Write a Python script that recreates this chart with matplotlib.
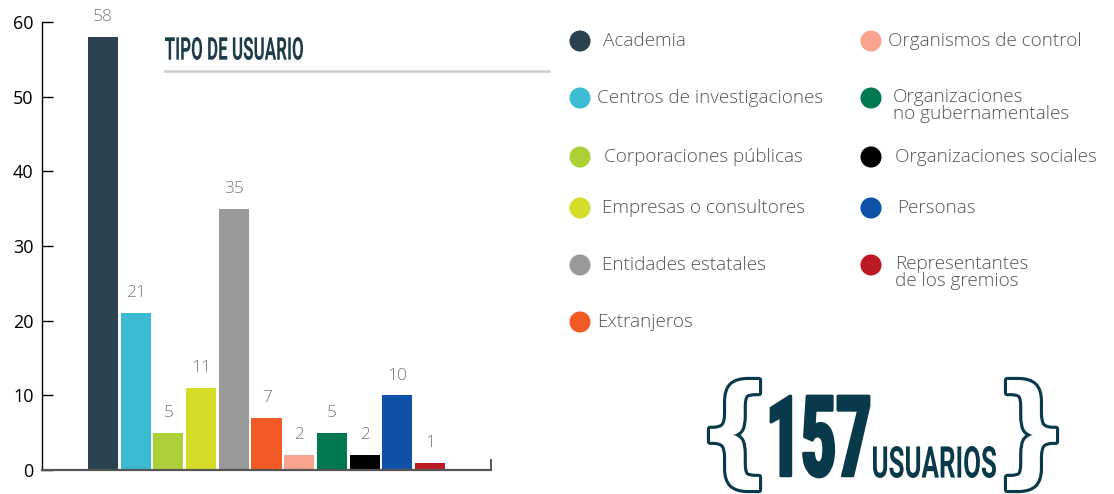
import matplotlib
matplotlib.use("Agg")
import matplotlib.pyplot as plt
import matplotlib.patheffects as pe
from matplotlib.transforms import Affine2D
import numpy as np

categories = ["Academia", "Centros de investigaciones", "Corporaciones públicas",
              "Empresas o consultores", "Entidades estatales", "Extranjeros",
              "Organismos de control", "Organizaciones\nno gubernamentales",
              "Organizaciones sociales", "Personas", "Representantes\nde los gremios"]
values = [58, 21, 5, 11, 35, 7, 2, 5, 2, 10, 1]
colors = ["#2b4250", "#3bbcd3", "#acd036", "#d5dd26", "#999999", "#f15a24",
          "#f9a48f", "#00794f", "#000000", "#0d52a8", "#bb1a22"]
yticks = [0, 10, 20, 30, 40, 50, 60]
title = "TIPO DE USUARIO"
total_label = "157"
total_unit = "USUARIOS"

W, H = 1114, 494


class FitBox(pe.AbstractPathEffect):
    """Draw a text's glyphs fitted to a box (image pixels: left, right, top, bottom).
    The artist remains a real Text object; only its rendering is condensed."""

    def __init__(self, box, stroke=None, stroke_lw=0):
        super().__init__()
        self.box = box
        self.stroke = stroke
        self.stroke_lw = stroke_lw

    def draw_path(self, renderer, gc, tpath, affine, rgbFace=None):
        left, right, top, bottom = self.box
        ext = tpath.get_extents(affine)
        sx = (right - left) / max(ext.width, 1e-6)
        sy = (bottom - top) / max(ext.height, 1e-6)
        new = (affine + Affine2D().translate(-ext.x0, -ext.y0)
               .scale(sx, sy).translate(left, H - bottom))
        if self.stroke is not None:
            gc0 = renderer.new_gc()
            gc0.copy_properties(gc)
            gc0.set_linewidth(self.stroke_lw)
            gc0.set_foreground(self.stroke)
            gc0.set_joinstyle("round")
            renderer.draw_path(gc0, tpath, new, None)
            gc0.restore()
        renderer.draw_path(gc, tpath, new, rgbFace)


fig = plt.figure(figsize=(W / 100, H / 100), dpi=100)

# ---- bar chart ----
ax = fig.add_axes([42 / W, 24 / H, (491 - 42) / W, (470 - 22) / H])
x = np.arange(len(values))
ax.bar(x, values, width=0.92, color=colors, zorder=2)
ax.set_xlim(-1.87, len(values) - 1 + 1.87)
ax.set_ylim(0, 60)
ax.set_yticks(yticks)
ax.set_xticks([])
for s in ["top", "right"]:
    ax.spines[s].set_visible(False)
ax.spines["left"].set_color("black")
ax.spines["left"].set_linewidth(1.0)
ax.spines["bottom"].set_color("#555555")
ax.spines["bottom"].set_linewidth(1.6)
ax.tick_params(axis="y", direction="in", length=8, width=1.0, pad=6,
               labelsize=13, labelcolor="black")
for lab in ax.get_yticklabels():
    lab.set_fontfamily("Open Sans")
ax.plot([1, 1], [0, 0.022], transform=ax.transAxes, color="#555555",
        lw=1.4, clip_on=False)
for xi, v in zip(x, values):
    ax.annotate(str(v), (xi, v), xytext=(0, 8.5), textcoords="offset points",
                ha="center", va="bottom", fontsize=12.5, color="#7a7a7a",
                fontfamily="Open Sans", fontweight="light")

# ---- overlay (pixel coordinates) ----
lax = fig.add_axes([0, 0, 1, 1])
lax.set_xlim(0, W)
lax.set_ylim(H, 0)
lax.axis("off")
lax.patch.set_alpha(0)

dark = "#083a4c"
lax.text(165, 60, title, fontsize=14, fontweight="bold", color="#1d3b4a",
         fontfamily="Roboto", va="baseline", ha="left",
         path_effects=[FitBox((165, 303, 37, 60))])
lax.plot([165, 549], [71, 71], color="#cccccc", lw=1.8)

# legend
row_y = [41, 98, 157, 208, 265, 322]
col_x = [580, 871]
text_dx = [23, 17, 24, 22, 22, 17, 17, 22, 24, 26, 24]
for i, (cat, c) in enumerate(zip(categories, colors)):
    col, row = divmod(i, 6)
    cx, cy = col_x[col], row_y[row]
    lax.scatter([cx], [cy], s=230, color=c, edgecolors="none")
    lines = cat.count("\n")
    lax.text(cx + text_dx[i], cy + lines * 7.5, cat, fontsize=13.6,
             color="#555555", fontfamily="Open Sans", fontweight="light",
             va="center", ha="left", linespacing=0.88)

# total
lax.text(734, 436, "{", fontsize=36, color="white", fontfamily="DejaVu Sans",
         fontweight="bold", ha="center", va="center",
         path_effects=[FitBox((710, 759, 380, 490), stroke=dark, stroke_lw=4.5)])
lax.text(1031, 436, "}", fontsize=36, color="white", fontfamily="DejaVu Sans",
         fontweight="bold", ha="center", va="center",
         path_effects=[FitBox((1007, 1056, 380, 490), stroke=dark, stroke_lw=4.5)])
lax.text(770, 478, total_label, fontsize=38, fontweight="heavy", color=dark,
         fontfamily="Roboto", va="baseline", ha="left",
         path_effects=[FitBox((771, 869, 396, 477), stroke=dark, stroke_lw=2)])
lax.text(873, 478, total_unit, fontsize=15.5, fontweight="bold", color=dark,
         fontfamily="Roboto", va="baseline", ha="left",
         path_effects=[FitBox((873, 996, 446, 478))])

fig.savefig("out.png", dpi=100)
